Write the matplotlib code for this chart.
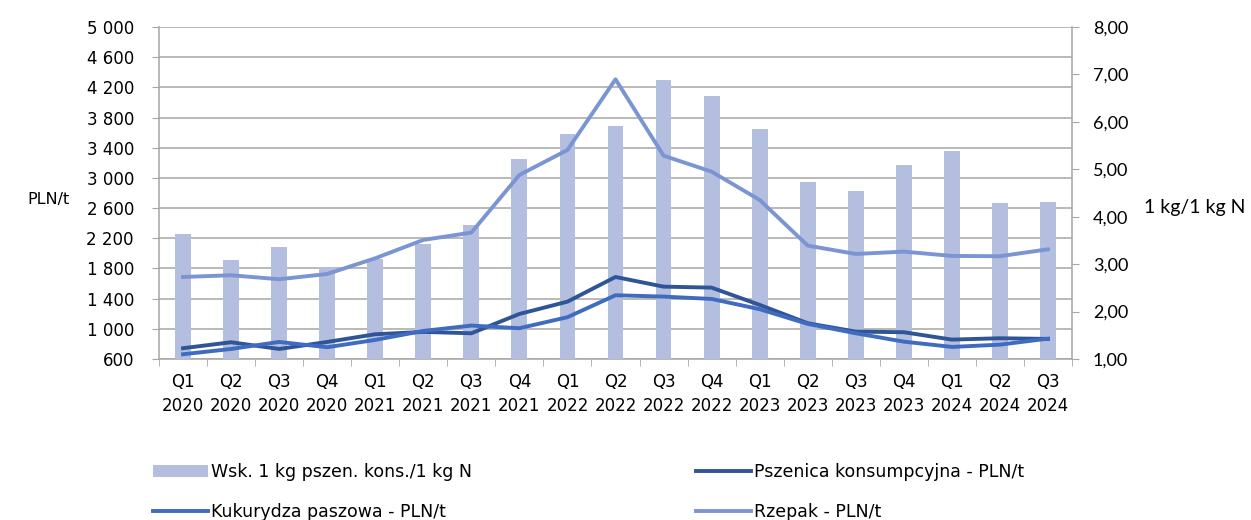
import matplotlib
matplotlib.use('Agg')
import matplotlib.pyplot as plt
from matplotlib.ticker import FuncFormatter

# quarters on the x axis
quarters = ['Q1\n2020', 'Q2\n2020', 'Q3\n2020', 'Q4\n2020',
            'Q1\n2021', 'Q2\n2021', 'Q3\n2021', 'Q4\n2021',
            'Q1\n2022', 'Q2\n2022', 'Q3\n2022', 'Q4\n2022',
            'Q1\n2023', 'Q2\n2023', 'Q3\n2023', 'Q4\n2023',
            'Q1\n2024', 'Q2\n2024', 'Q3\n2024']

# ratio 1 kg wheat / 1 kg N (right axis, bars)
wsk = [3.63, 3.08, 3.37, 2.94, 3.10, 3.42, 3.82, 5.22, 5.74, 5.91,
       6.88, 6.54, 5.85, 4.74, 4.55, 5.08, 5.39, 4.28, 4.32]

# prices PLN/t (left axis, lines)
pszenica = [743, 822, 733, 826, 928, 959, 941, 1197, 1360, 1687,
            1559, 1546, 1317, 1074, 963, 955, 857, 875, 866]
kukurydza = [663, 733, 826, 756, 853, 972, 1043, 1008, 1154, 1445,
             1427, 1396, 1260, 1065, 941, 830, 760, 790, 870]
rzepak = [1687, 1710, 1657, 1727, 1935, 2178, 2275, 3039, 3370, 4307,
          3295, 3083, 2708, 2103, 1992, 2023, 1966, 1962, 2054]

left_ticks = list(range(600, 5001, 400))
right_ticks = [1, 2, 3, 4, 5, 6, 7, 8]

c_bar = '#B4BEDE'
c_psz = '#2F5597'
c_kuk = '#3F6CC0'
c_rze = '#7B95D3'
c_grid = '#A6A6A6'

fig = plt.figure(figsize=(12.51, 5.2), dpi=100)
pos = [159 / 1251, 1 - 359 / 520, (1072 - 159) / 1251, (359 - 27) / 520]

x = list(range(len(quarters)))

# base axes: left scale, grid
ax = fig.add_axes(pos)
ax.set_ylim(600, 5000)
ax.set_xlim(-0.5, len(quarters) - 0.5)
ax.set_yticks(left_ticks)
ax.yaxis.set_major_formatter(FuncFormatter(lambda v, p: f'{int(v):,}'.replace(',', ' ')))
ax.grid(axis='y', color=c_grid, linewidth=1.1)
ax.set_axisbelow(True)
ax.set_xticks(x)
ax.set_xticklabels(quarters, fontsize=12, family='DejaVu Sans', linespacing=1.45)
ax.set_xticks([i - 0.5 for i in range(len(quarters) + 1)], minor=True)
ax.tick_params(axis='x', which='major', length=0, pad=10)
ax.tick_params(axis='x', which='minor', length=5, color=c_grid, direction='out')
ax.tick_params(axis='y', length=5, color=c_grid, labelsize=12, pad=13)
for s in ['top', 'right']:
    ax.spines[s].set_visible(False)
for s in ['left', 'bottom']:
    ax.spines[s].set_color(c_grid)
    ax.spines[s].set_linewidth(1.1)
ax.set_ylabel('PLN/t', rotation=0, fontsize=11.5, ha='center', va='center')
ax.yaxis.set_label_coords(-0.1205, 0.479)

# bars on right scale
ax2 = ax.twinx()
ax2.set_ylim(1, 8)
bars = ax2.bar(x, wsk, width=0.33, color=c_bar, zorder=1,
               label='Wsk. 1 kg pszen. kons./1 kg N')
ax2.set_yticks(right_ticks)
ax2.yaxis.set_major_formatter(FuncFormatter(lambda v, p: f'{v:.2f}'.replace('.', ',')))
for lab in ax2.get_yticklabels():
    lab.set_family('Lato')
    lab.set_fontsize(13)
ax2.tick_params(axis='y', length=5, color=c_grid, pad=10)
ax2.spines['right'].set_color(c_grid)
ax2.spines['right'].set_linewidth(1.1)
for s in ['top', 'left', 'bottom']:
    ax2.spines[s].set_visible(False)
ax2.set_ylabel('1 kg/1 kg N', rotation=0, fontsize=14, family='Lato',
               ha='center', va='center')
ax2.yaxis.set_label_coords(1.1347, 0.455)

# lines on top, same scale as left axis
ax3 = fig.add_axes(pos, sharex=ax, sharey=ax)
ax3.patch.set_visible(False)
ax3.axis('off')
l1, = ax3.plot(x, pszenica, color=c_psz, lw=2.8, label='Pszenica konsumpcyjna - PLN/t')
l2, = ax3.plot(x, kukurydza, color=c_kuk, lw=2.8, label='Kukurydza paszowa - PLN/t')
l3, = ax3.plot(x, rzepak, color=c_rze, lw=2.8, label='Rzepak - PLN/t')

fig.legend([bars, l2, l1, l3],
           [bars.get_label(), l2.get_label(), l1.get_label(), l3.get_label()],
           loc='upper left', bbox_to_anchor=(153 / 1251, 1 - 463 / 520),
           ncol=2, frameon=False, fontsize=12.5, handlelength=3.15,
           handletextpad=0.2, columnspacing=12.9, labelspacing=1.25,
           borderpad=0, borderaxespad=0)

fig.savefig('out.png', dpi=100)
